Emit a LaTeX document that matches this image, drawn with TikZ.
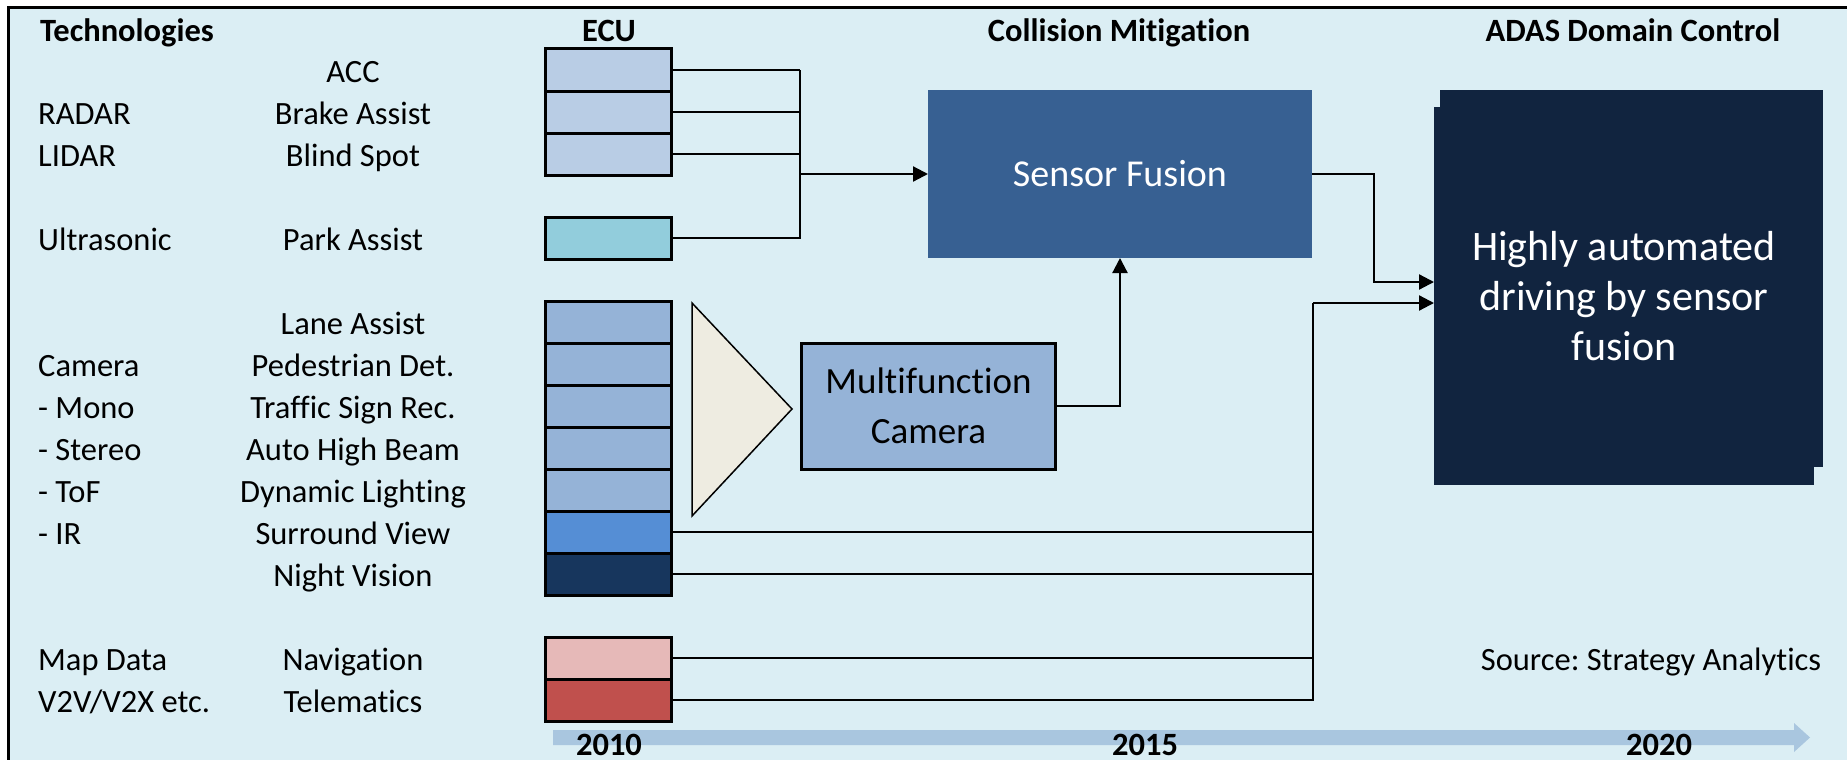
\documentclass[tikz,border=0pt]{standalone}
\usepackage{fontspec}
\setmainfont[Ligatures=CommonOff]{Carlito}
\usetikzlibrary{arrows.meta}

\definecolor{panelbg}{HTML}{DBEEF4}
\definecolor{radarc}{HTML}{B9CDE5}
\definecolor{ultrac}{HTML}{92CDDC}
\definecolor{camc}{HTML}{95B3D7}
\definecolor{surrc}{HTML}{558ED5}
\definecolor{nightc}{HTML}{17365D}
\definecolor{navc}{HTML}{E6B9B8}
\definecolor{telec}{HTML}{C0504D}
\definecolor{fusionc}{HTML}{376092}
\definecolor{domainc}{HTML}{11243F}
\definecolor{lensc}{HTML}{EEECE1}
\definecolor{timec}{HTML}{A9C6DF}

\newcommand{\lblfont}{\fontsize{32.5}{39}\selectfont}
\frenchspacing

\begin{document}
\begin{tikzpicture}[x=1pt,y=-1pt,
  ecubox/.style={draw=black, line width=3pt, minimum width=126pt,
    minimum height=42pt, inner sep=0pt},
  techlbl/.style={anchor=base west, font=\lblfont, inner sep=0pt},
  funclbl/.style={anchor=base, font=\lblfont, inner sep=0pt},
  heading/.style={anchor=base, font=\lblfont\bfseries, inner sep=0pt},
  yearlbl/.style={anchor=base, font=\lblfont\bfseries, inner sep=0pt},
  wire/.style={draw=black, line width=2.2pt},
  feed/.style={wire, -{Triangle[length=15pt,width=15pt]}},
]
\useasboundingbox (0,0) rectangle (1847,760);
\clip (0,0) rectangle (1847,760);

% panel (runs past the right and bottom edges)
\draw[line width=3pt, fill=panelbg] (8.5,7.5) rectangle (1870,800);

% column headings
\node[heading] (hTech) at (127,42) {Technologies};
\node[heading] (hEcu) at (609,42) {ECU};
\node[heading] (hCol) at (1119,42) {Collision Mitigation};
\node[heading] (hAdas) at (1633,42) {ADAS Domain Control};

% technologies
\node[techlbl] (tRadar) at (38,124) {RADAR};
\node[techlbl] (tLidar) at (38,166) {LIDAR};
\node[techlbl] (tUltra) at (38,250) {Ultrasonic};
\node[techlbl] (tCam) at (38,376) {Camera};
\node[techlbl] (tMono) at (38,418) {- Mono};
\node[techlbl] (tStereo) at (38,460) {- Stereo};
\node[techlbl] (tTof) at (38,502) {- ToF};
\node[techlbl] (tIr) at (38,544) {- IR};
\node[techlbl] (tMap) at (38,670) {Map Data};
\node[techlbl] (tV2x) at (38,712) {V2V/V2X etc.};

% functions
\node[funclbl] (fAcc) at (353,82) {ACC};
\node[funclbl] (fBrake) at (353,124) {Brake Assist};
\node[funclbl] (fBlind) at (353,166) {Blind Spot};
\node[funclbl] (fPark) at (353,250) {Park Assist};
\node[funclbl] (fLane) at (353,334) {Lane Assist};
\node[funclbl] (fPed) at (353,376) {Pedestrian Det.};
\node[funclbl] (fTsr) at (353,418) {Traffic Sign Rec.};
\node[funclbl] (fHb) at (353,460) {Auto High Beam};
\node[funclbl] (fDl) at (353,502) {Dynamic Lighting};
\node[funclbl] (fSv) at (353,544) {Surround View};
\node[funclbl] (fNv) at (353,586) {Night Vision};
\node[funclbl] (fNav) at (353,670) {Navigation};
\node[funclbl] (fTel) at (353,712) {Telematics};

% ECU column
\node[ecubox, fill=radarc] (eAcc) at (608.5,70) {};
\node[ecubox, fill=radarc] (eBrake) at (608.5,112) {};
\node[ecubox, fill=radarc] (eBlind) at (608.5,154) {};
\node[ecubox, fill=ultrac] (ePark) at (608.5,238) {};
\node[ecubox, fill=camc] (eLane) at (608.5,322) {};
\node[ecubox, fill=camc] (ePed) at (608.5,364) {};
\node[ecubox, fill=camc] (eTsr) at (608.5,406) {};
\node[ecubox, fill=camc] (eHb) at (608.5,448) {};
\node[ecubox, fill=camc] (eDl) at (608.5,490) {};
\node[ecubox, fill=surrc] (eSv) at (608.5,532) {};
\node[ecubox, fill=nightc] (eNv) at (608.5,574) {};
\node[ecubox, fill=navc] (eNav) at (608.5,658) {};
\node[ecubox, fill=telec] (eTel) at (608.5,700) {};

% camera lens
\draw[line width=1.5pt, fill=lensc, line join=miter] (692,303) -- (792,409) -- (692,516) -- cycle;

% collision mitigation stage
\node[fill=fusionc, minimum width=384pt, minimum height=168pt, inner sep=0pt,
  outer sep=0pt, text=white, font=\fontsize{38}{46}\selectfont] (fusion) at (1120,174) {Sensor Fusion};
\node[draw=black, line width=3pt, fill=camc, minimum width=254pt, minimum height=126pt,
  inner sep=0pt, align=center, font=\fontsize{37}{50}\selectfont] (mfc) at (928.5,406)
  {Multifunction\\Camera};

% domain controller (offset double panel)
\fill[domainc] (1440,90) rectangle (1823,467);
\node[fill=domainc, minimum width=380pt, minimum height=378pt, inner sep=0pt,
  outer sep=0pt, text=white, align=center, font=\fontsize{42}{50}\selectfont]
  (domain) at (1624,296) {Highly automated\\driving by sensor\\fusion};

% radar / ultrasonic feeds
\coordinate (radarBus) at (800,174);
\draw[wire] (eAcc.east) -- (eAcc.east -| radarBus);
\draw[wire] (eBrake.east) -- (eBrake.east -| radarBus);
\draw[wire] (eBlind.east) -- (eBlind.east -| radarBus);
\draw[wire] (ePark.east) -| (eAcc.east -| radarBus);
\draw[feed] (radarBus) -- (fusion.west);

% camera into fusion
\draw[feed] (mfc.east) -| (fusion.south);

% fusion into domain controller
\coordinate (fusionBend) at (1374,282);
\draw[feed] (fusion.east) -| (fusionBend) -- (fusionBend -| domain.west);

% direct feeds into domain controller
\coordinate (directBus) at (1313,303);
\draw[wire] (eSv.east) -- (eSv.east -| directBus);
\draw[wire] (eNv.east) -- (eNv.east -| directBus);
\draw[wire] (eNav.east) -- (eNav.east -| directBus);
\draw[wire] (eTel.east) -| (directBus);
\draw[feed] (directBus) -- (directBus -| domain.west);

% timeline
\fill[timec] (553,730) -- (1794,730) -- (1794,723) -- (1810,737.5) -- (1794,752)
  -- (1794,745) -- (553,745) -- cycle;
\node[yearlbl] (y2010) at (609,755) {2010};
\node[yearlbl] (y2015) at (1145,755) {2015};
\node[yearlbl] (y2020) at (1659,755) {2020};

\node[anchor=base, font=\lblfont, inner sep=0pt] (source) at (1651,670) {Source: Strategy Analytics};
\end{tikzpicture}
\end{document}
